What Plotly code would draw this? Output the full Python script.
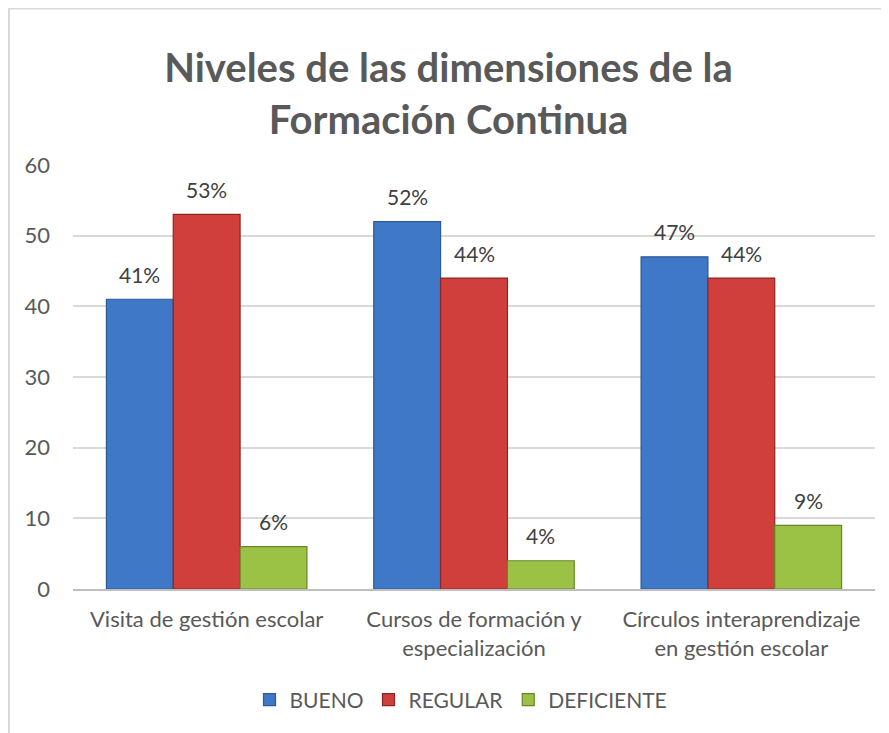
import plotly.graph_objects as go

categories = ["Visita de gestión escolar",
              "Cursos de formación y<br>especialización",
              "Círculos interaprendizaje<br>en gestión escolar"]
series_names = ["BUENO", "REGULAR", "DEFICIENTE"]
bueno = [41, 52, 47]
regular = [53, 44, 44]
deficiente = [6, 4, 9]
y_ticks = [0, 10, 20, 30, 40, 50, 60]

colors = ["#3F78C6", "#D13F3D", "#9CC245"]
lines = ["#2D5A96", "#8C2624", "#66862A"]

W, H = 881, 725
ml, mr, mt, mb = 65, 14, 157, 144
pw = W - ml - mr
ph = H - mt - mb
bargap = 0.25
bar_px = pw / len(categories) * (1 - bargap) / len(series_names)

FONT = "Lato, sans-serif"
fig = go.Figure()
annotations = []
all_series = [bueno, regular, deficiente]
for i, (name, vals, c, lc) in enumerate(zip(series_names, all_series, colors, lines)):
    fig.add_trace(go.Bar(
        x=categories, y=vals, name=name,
        marker=dict(color=c, line=dict(color=lc, width=1.2)),
    ))
    for cat, v in zip(categories, vals):
        annotations.append(dict(
            x=cat, y=v, xref="x", yref="y", text=f"{v}%", showarrow=False,
            xshift=(i - 1) * bar_px, yshift=25, yanchor="middle",
            font=dict(size=21, color="#404040", family=FONT)))

fig.update_layout(
    width=W, height=H,
    margin=dict(l=ml, r=mr, t=mt, b=mb),
    paper_bgcolor="white", plot_bgcolor="white",
    barmode="group", bargap=bargap, bargroupgap=0,
    font=dict(family=FONT, color="#595959", size=22),
    title=dict(text="Niveles de las dimensiones de la<br>Formación Continua",
               x=0.5, xanchor="center", y=1 - 74 / H, yanchor="middle",
               font=dict(size=40, color="#595959", family=FONT, weight="bold")),
    xaxis=dict(showline=True, linecolor="#bfbfbf", linewidth=2, ticks="",
               ticklabelstandoff=10,
               tickfont=dict(size=22, color="#595959")),
    yaxis=dict(range=[0, 60], tickvals=y_ticks, showgrid=True, gridcolor="#d9d9d9",
               gridwidth=1.5, zeroline=False, ticks="", ticklabelstandoff=22,
               tickfont=dict(size=22, color="#595959")),
    legend=dict(orientation="h", x=(453 - ml) / pw, xanchor="center",
                y=-(692 - (H - mb)) / ph, yanchor="middle",
                font=dict(size=21, color="#595959"), itemwidth=30, traceorder="normal"),
    showlegend=True,
    annotations=annotations,
    shapes=[dict(type="rect", xref="paper", yref="paper",
                 x0=(1 - ml) / pw, x1=(W + 20 - ml) / pw,
                 y0=-(mb + 20) / ph, y1=1 + (mt - 0.5) / ph,
                 line=dict(color="#d9d9d9", width=2), layer="below")],
)
fig.write_html("out.html")
